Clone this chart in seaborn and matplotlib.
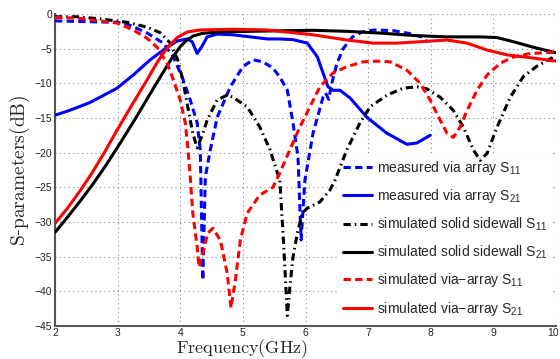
import numpy as np
import pandas as pd
import matplotlib
matplotlib.use("Agg")
import matplotlib.pyplot as plt
import seaborn as sns
from matplotlib.lines import Line2D
from matplotlib import transforms

# ---- data ----
meas_s11_f = [2.0, 2.5, 3.0, 3.15, 3.47, 3.73, 3.89, 4.03, 4.16, 4.27, 4.32, 4.36, 4.40, 4.48, 4.59, 4.80,
              5.00, 5.16, 5.32, 5.48, 5.59, 5.71, 5.80, 5.88, 5.93, 5.99, 6.12, 6.28, 6.32, 6.37, 6.42,
              6.50, 6.60, 6.75, 6.90, 7.10, 7.40, 7.65, 7.85, 7.95]
meas_s11_db = [-1.0, -1.1, -1.2, -1.44, -2.74, -4.2, -6.2, -9.1, -12.4, -15.7, -19.6, -38.4, -23.5, -19.6, -14.9, -10.5,
               -7.6, -6.6, -6.9, -7.8, -9.1, -11.0, -15.7, -20.6, -32.6, -24.0, -17.2, -12.0, -11.4, -12.3, -10.0,
               -7.2, -5.0, -3.3, -2.6, -2.3, -2.4, -2.8, -3.3, -4.0]

meas_s21_f = [2.0, 2.2, 2.35, 2.55, 2.72, 2.99, 3.25, 3.52, 3.79, 3.95, 4.11, 4.19, 4.27, 4.35, 4.43, 4.59, 4.84, 5.12,
              5.39, 5.59, 5.80, 6.03, 6.19, 6.28, 6.36, 6.44, 6.55, 6.71, 6.98, 7.30, 7.62, 7.78, 7.99]
meas_s21_db = [-14.6, -14.0, -13.5, -12.8, -12.0, -10.7, -8.8, -6.6, -4.8, -3.9, -3.6, -4.0, -5.7, -4.6, -3.3, -2.9, -3.0, -3.3,
               -3.6, -3.6, -3.7, -4.2, -6.2, -8.5, -10.5, -11.0, -11.0, -12.1, -14.9, -17.2, -18.8, -18.6, -17.5]

solid_s11_f = [2.0, 2.35, 2.72, 3.15, 3.47, 3.68, 3.84, 3.96, 4.04, 4.12, 4.20, 4.27, 4.35, 4.43, 4.59, 4.75,
               4.84, 5.07, 5.27, 5.43, 5.59, 5.65, 5.71, 5.75, 5.80, 5.87, 5.95, 6.03, 6.23, 6.39, 6.47,
               6.66, 6.87, 7.03, 7.30, 7.56, 7.78, 7.94, 8.15, 8.36, 8.52, 8.68, 8.79, 8.90, 9.06, 9.27,
               9.48, 9.70, 10.0]
solid_s11_db = [-0.4, -0.4, -0.7, -1.2, -1.9, -2.7, -4.2, -6.6, -9.5, -13.4, -17.2, -19.3, -17.5, -15.3, -12.4, -11.7,
                -12.0, -13.4, -16.3, -19.5, -24.0, -33.0, -43.5, -39.4, -35.1, -31.6, -28.7, -28.0, -27.1, -25.4, -24.0,
                -19.6, -15.7, -13.4, -11.7, -10.7, -10.5, -10.8, -12.0, -13.9, -16.3, -19.6, -21.1, -20.1, -16.3, -12.0,
                -9.0, -7.5, -6.0]

solid_s21_f = [2.0, 2.2, 2.4, 2.6, 2.8, 3.0, 3.25, 3.5, 3.7, 3.85, 4.0, 4.1, 4.2, 4.35, 4.6, 4.84, 5.39, 6.12,
               6.66, 7.19, 7.72, 8.26, 8.79, 9.06, 9.32, 9.64, 10.0]
solid_s21_db = [-31.5, -29.3, -27.0, -24.6, -22.0, -19.2, -15.6, -11.8, -8.8, -6.6, -4.7, -3.8, -3.2, -2.8, -2.6, -2.55, -2.45, -2.35,
                -2.5, -2.75, -3.1, -3.3, -3.3, -3.4, -4.0, -4.8, -5.6]

via_s11_f = [2.0, 2.35, 2.72, 2.99, 3.25, 3.47, 3.63, 3.79, 3.89, 4.0, 4.08, 4.12, 4.16, 4.20, 4.27, 4.30,
             4.36, 4.44, 4.52, 4.64, 4.75, 4.81, 4.88, 4.96, 5.07, 5.27, 5.48, 5.59, 5.75, 5.91, 6.07,
             6.23, 6.44, 6.66, 6.92, 7.14, 7.35, 7.62, 7.83, 7.99, 8.15, 8.26, 8.36, 8.47, 8.58, 8.74,
             8.90, 9.11, 9.32, 9.59, 10.0]
via_s11_db = [-0.5, -0.6, -1.0, -1.3, -2.3, -3.5, -4.8, -7.1, -9.5, -12.4, -15.7, -19.2, -23.5, -28.7, -33.6, -36.5,
              -34.5, -31.6, -30.9, -32.6, -37.4, -42.4, -38.4, -32.6, -28.7, -26.1, -25.0, -22.9, -19.6, -16.3, -13.4,
              -10.5, -8.5, -7.6, -6.9, -6.8, -6.9, -8.1, -10.0, -12.4, -15.3, -17.2, -17.8, -16.3, -13.9, -11.0,
              -8.8, -7.1, -6.2, -5.7, -5.5]

via_s21_f = [2.0, 2.2, 2.4, 2.6, 2.8, 3.0, 3.25, 3.47, 3.63, 3.79, 3.95, 4.11, 4.32, 4.84, 5.39, 5.59,
             6.12, 6.66, 7.08, 7.46, 7.83, 8.26, 8.58, 8.90, 9.22, 9.59, 10.0]
via_s21_db = [-30.2, -28.0, -25.5, -22.8, -19.8, -16.6, -12.8, -9.5, -7.0, -4.9, -3.4, -2.6, -2.3, -2.2, -2.3, -2.5,
              -3.0, -3.75, -4.2, -4.2, -4.0, -3.75, -4.2, -5.2, -5.9, -6.3, -6.8]

labels = ["measured via array S$_{11}$", "measured via array S$_{21}$",
          "simulated solid sidewall S$_{11}$", "simulated solid sidewall S$_{21}$",
          "simulated via\u2212array S$_{11}$", "simulated via\u2212array S$_{21}$"]
x_ticks = [2, 3, 4, 5, 6, 7, 8, 9, 10]
y_ticks = [0, -5, -10, -15, -20, -25, -30, -35, -40, -45]

series = [
    (meas_s11_f, meas_s11_db, labels[0], "#0000ff", "dash"),
    (meas_s21_f, meas_s21_db, labels[1], "#0000ff", "solid"),
    (solid_s11_f, solid_s11_db, labels[2], "#000000", "dashdot"),
    (solid_s21_f, solid_s21_db, labels[3], "#000000", "solid"),
    (via_s11_f, via_s11_db, labels[4], "#ff0000", "dash"),
    (via_s21_f, via_s21_db, labels[5], "#ff0000", "solid"),
]

sns.set_style("white")
plt.rcParams["font.family"] = ["Liberation Sans", "DejaVu Sans"]
plt.rcParams["mathtext.fontset"] = "custom"
plt.rcParams["mathtext.rm"] = "Liberation Sans"
plt.rcParams["mathtext.it"] = "Liberation Sans:italic"
plt.rcParams["axes.unicode_minus"] = True

fig = plt.figure(figsize=(5.6, 3.59), dpi=100)
ax = fig.add_axes([55 / 560, 1 - 326 / 359, (556 - 55) / 560, (326 - 14) / 359])

LW = 2.2
dash_styles = {"solid": (None, None), "dash": (0, (2.4, 1.4)), "dashdot": (0, (2.4, 1.3, 0.5, 1.3))}

handles = []
for f, db, lab, col, sty in series:
    df = pd.DataFrame({"Frequency": f, "dB": db})
    sns.lineplot(data=df, x="Frequency", y="dB", ax=ax, color=col, lw=LW,
                 sort=False, estimator=None, legend=False, zorder=3)
    line = ax.lines[-1]
    line.set_solid_joinstyle("round")
    if sty != "solid":
        line.set_linestyle(dash_styles[sty])
    h = Line2D([], [], color=col, lw=LW)
    if sty != "solid":
        h.set_linestyle(dash_styles[sty])
    handles.append(h)

ax.set_xlim(2, 10)
ax.set_ylim(-45, 0)
ax.set_xticks(x_ticks)
ax.set_yticks(y_ticks)
ax.set_xticklabels([str(t) for t in x_ticks])
ax.set_yticklabels([("\u2212" + str(-t)) if t < 0 else str(t) for t in y_ticks])
ax.tick_params(direction="in", length=4, width=1, colors="#222222", labelsize=7.5, pad=2)
ax.tick_params(axis="x", pad=1.5)
# keep the last x tick label inside the canvas
last = ax.get_xticklabels()[-1]
last.set_transform(last.get_transform() + transforms.ScaledTranslation(-3 / 100, 0, fig.dpi_scale_trans))

ax.grid(True, linestyle=(0, (1, 3)), color="#888888", lw=0.8)
ax.set_axisbelow(True)
for s in ["top", "right"]:
    ax.spines[s].set_visible(False)
for s in ["left", "bottom"]:
    ax.spines[s].set_color("#555555")
    ax.spines[s].set_linewidth(1.5)

ax.set_xlabel(r"$\mathrm{Frequency(GHz)}$", math_fontfamily="cm", fontsize=13)
ax.xaxis.set_label_coords(0.373, -0.037)
ax.set_ylabel(r"$\mathrm{S}$-$\mathrm{parameters(dB)}$", math_fontfamily="cm",
              fontsize=14, family="DejaVu Serif", labelpad=2)

leg = ax.legend(handles, labels, loc="lower right", bbox_to_anchor=(1.0, 0.0),
                frameon=True, facecolor="white", edgecolor="none", framealpha=1,
                fontsize=10, handlelength=2.1, handletextpad=0.35, labelspacing=0.75,
                borderaxespad=0.2, fancybox=False)
leg.set_zorder(2)

fig.savefig("out.png", dpi=100)
